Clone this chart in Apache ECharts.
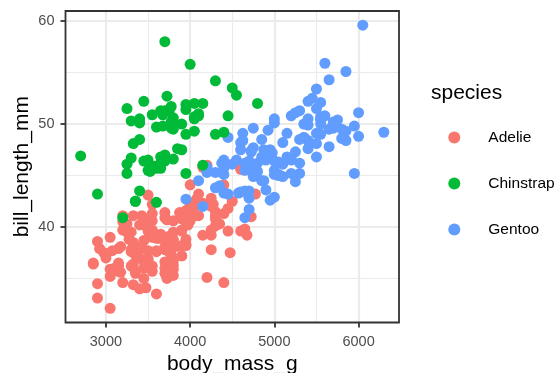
<!DOCTYPE html>
<html>
<head>
<meta charset="utf-8">
<script src="https://cdn.jsdelivr.net/npm/echarts@6/dist/echarts.min.js"></script>
<style>html,body{margin:0;padding:0;background:#fff}#c{width:558px;height:373px}</style>
</head>
<body>
<div id="c"></div>
<script>
const speciesNames = ['Adelie', 'Chinstrap', 'Gentoo'];
const speciesColors = ['#F8766D', '#00BA38', '#619CFF'];
const xMajorTicks = [3000, 4000, 5000, 6000];
const xMinorTicks = [3500, 4500, 5500];
const yMajorTicks = [40, 50, 60];
const yMinorTicks = [35, 45, 55];

const adelieMass = [3750,3800,3250,3450,3650,3625,4675,3475,4250,3300,3700,3200,3800,4400,3700,3450,4500,3325,4200,
3400,3600,3800,3950,3800,3800,3550,3200,3150,3950,3250,3900,3300,3900,3325,4150,3950,3550,3300,4650,3150,3900,3100,4400,
3000,4600,3425,2975,3450,4150,3500,4300,3450,4050,2900,3700,3550,3800,2850,3750,3150,4400,3600,4050,2850,3950,3350,4100,
3050,4450,3600,3900,3550,4150,3700,4250,3700,3900,3550,4000,3200,4700,3800,4200,3350,3550,3800,3500,3950,3600,3550,4300,
3400,4450,3300,4300,3700,4350,2900,4100,3725,4725,3075,4250,2925,3550,3750,3900,3175,4775,3825,4600,3200,4275,3900,4075,
2900,3775,3350,3325,3150,3500,3450,3875,3050,4000,3275,4300,3050,4000,3325,3500,3500,4475,3425,3900,3175,3975,3400,4250,
3400,3475,3050,3725,3000,3650,4250,3475,3450,3750,3700,4000];
const adelieBill = [39.1,39.5,40.3,36.7,39.3,38.9,39.2,34.1,42.0,37.8,37.8,41.1,38.6,34.6,36.6,38.7,42.5,34.4,46.0,
37.8,37.7,35.9,38.2,38.8,35.3,40.6,40.5,37.9,40.5,39.5,37.2,39.5,40.9,36.4,39.2,38.8,42.2,37.6,39.8,36.5,40.8,36.0,44.1,
37.0,39.6,41.1,37.5,36.0,42.3,39.6,40.1,35.0,42.0,34.5,41.4,39.0,40.6,36.5,37.6,35.7,41.3,37.6,41.1,36.4,41.6,35.5,41.1,
35.9,41.8,33.5,39.7,39.6,45.8,35.5,42.8,40.9,37.2,36.2,42.1,34.6,42.9,36.7,35.1,37.3,41.3,36.3,36.9,38.3,38.9,35.7,41.1,
34.0,39.6,36.2,40.8,38.1,40.3,33.1,43.2,35.0,41.0,37.7,37.8,37.9,39.7,38.6,38.2,38.1,43.2,38.1,45.6,39.7,42.2,39.6,42.7,
38.6,37.3,35.7,41.1,36.2,37.7,40.2,41.4,35.2,40.6,38.8,41.5,39.0,44.1,38.5,43.1,36.8,37.5,38.1,41.1,35.6,40.2,37.0,39.7,
40.2,40.6,32.1,40.7,37.3,39.0,39.2,36.6,36.0,37.8,36.0,41.5];

const gentooMass = [4500,5700,4450,5700,5400,4550,4800,5200,4400,5150,4650,5550,4650,5850,4200,5850,4150,6300,4800,5350,
5700,5000,4400,5050,5000,5100,4100,5650,4600,5550,5250,4700,5050,6050,5150,5400,4950,5250,4350,5350,3950,5700,4300,4750,
5550,4900,4200,5400,5100,5300,4850,5300,4400,5000,4900,5050,4300,5000,4450,5550,4200,5300,4400,5650,4700,5700,4650,5800,
4700,5550,4750,5000,5100,5200,4700,5800,4600,6000,4750,5950,4625,5450,4725,5350,4750,5600,4600,5300,4875,5550,4950,5400,
4750,5650,4850,5200,4925,4875,4625,5250,4850,5600,4975,5500,4725,5500,4700,5500,4575,5500,5000,5950,4650,5500,4375,5850,
4875,6000,4925,4850,5750,5200,5400];
const gentooBill = [46.1,50.0,48.7,50.0,47.6,46.5,45.4,46.7,43.3,46.8,40.9,49.0,45.5,48.4,45.8,49.3,42.0,49.2,46.2,48.7,
50.2,45.1,46.5,46.3,42.9,46.1,44.5,47.8,48.2,50.0,47.3,42.8,45.1,59.6,49.1,48.4,42.6,44.4,44.0,48.7,42.7,49.6,45.3,49.6,
50.5,43.6,45.5,50.5,44.9,45.2,46.6,48.5,45.1,50.1,46.5,45.0,43.8,45.5,43.2,50.4,45.3,46.2,45.7,54.3,45.8,49.8,46.2,49.5,
43.5,50.7,47.7,46.4,48.2,46.5,46.4,48.6,47.5,51.1,45.2,45.2,49.1,52.5,47.4,50.0,44.9,50.8,43.4,51.3,47.5,52.1,47.5,52.2,
45.5,49.5,44.5,50.8,49.4,46.9,48.4,51.1,48.5,55.9,47.2,49.1,47.3,46.8,41.7,53.4,43.3,48.1,50.5,49.8,43.5,51.5,46.2,55.1,
44.5,48.8,47.2,46.8,50.4,45.2,49.9];

const chinstrapMass = [3500,3900,3650,3525,3725,3950,3250,3750,4150,3700,3800,3775,3700,4050,3575,4050,3300,3700,3450,4400,
3600,3400,2900,3800,3300,4150,3400,3800,3700,4550,3200,4300,3350,4100,3600,3900,3850,4800,2700,4500,3950,3650,3550,3500,
3675,4450,3400,4300,3250,3675,3325,3950,3600,4050,3350,3450,3250,4050,3800,3525,3950,3650,3650,4000,3400,3775,4100,3775];
const chinstrapBill = [46.5,50.0,51.3,45.4,52.7,45.2,46.1,51.3,46.0,51.3,46.6,51.7,47.0,52.0,45.9,50.5,50.3,58.0,46.4,49.2,
42.4,48.5,43.2,50.6,46.7,52.0,50.5,49.5,46.4,52.8,40.9,54.2,42.5,51.0,49.7,47.5,47.6,52.0,46.9,53.5,49.0,46.2,50.9,45.5,
50.9,50.8,50.1,49.0,51.5,49.8,48.1,51.4,45.7,50.7,42.5,52.2,45.2,49.3,50.2,45.6,51.9,46.8,45.7,55.8,43.5,49.6,50.8,50.2];

function pairs(m, b) { return m.map((v, i) => [v, b[i]]); }

const FONT = 'Liberation Sans, Arial, sans-serif';
const gridColor = '#EBEBEB';

function pointSeries(name, color, data, z) {
  return {
    name: name, type: 'scatter', data: data, symbol: 'circle', symbolSize: 11,
    itemStyle: { color: color, opacity: 1 }, z: z, silent: true, animation: false
  };
}

const helper = {
  type: 'scatter', data: [], z: 1, silent: true, animation: false,
  markLine: {
    silent: true, symbol: 'none', animation: false, z: 1, label: { show: false },
    lineStyle: { color: gridColor, width: 1.1, type: 'solid' },
    data: xMinorTicks.map(v => ({ xAxis: v })).concat(yMinorTicks.map(v => ({ yAxis: v })))
  }
};

const chart = echarts.init(document.getElementById('c'), null, { renderer: 'canvas' });
chart.setOption({
  animation: false,
  backgroundColor: '#fff',
  textStyle: { fontFamily: FONT },
  title: {
    text: 'species', left: 431, top: 83, padding: 0,
    textStyle: { fontFamily: FONT, fontSize: 21, fontWeight: 'normal', color: '#000' }
  },
  grid: {
    left: 65.5, top: 11, right: 159, bottom: 50.5, containLabel: false, outerBoundsMode: 'none',
    show: true, borderColor: '#333333', borderWidth: 1.8, backgroundColor: 'transparent', z: 10
  },
  legend: {
    data: speciesNames, orient: 'vertical', left: 448.3, top: 129.5, icon: 'circle',
    itemWidth: 58, itemHeight: 12, itemGap: 30, padding: 0, selectedMode: false,
    textStyle: { fontFamily: FONT, fontSize: 15.5, color: '#000', padding: [0, 0, 0, 0] }
  },
  xAxis: {
    type: 'value', min: 2520, max: 6480,
    name: 'body_mass_g', nameLocation: 'middle', nameGap: 31, nameMoveOverlap: false,
    nameTextStyle: { fontFamily: FONT, fontSize: 21, color: '#000' },
    axisLine: { show: false },
    axisTick: { show: true, customValues: xMajorTicks, length: 5, lineStyle: { color: '#333333', width: 1.8 } },
    axisLabel: { customValues: xMajorTicks, formatter: v => String(v), margin: 12, fontFamily: FONT, fontSize: 14.5, color: '#4D4D4D' },
    splitLine: { show: true, lineStyle: { color: gridColor, width: 2.2 } }
  },
  yAxis: {
    type: 'value', min: 30.725, max: 60.975,
    name: 'bill_length_mm', nameLocation: 'middle', nameGap: 33, nameRotate: 90, nameMoveOverlap: false,
    nameTextStyle: { fontFamily: FONT, fontSize: 21, color: '#000' },
    axisLine: { show: false },
    axisTick: { show: true, customValues: yMajorTicks, length: 5, lineStyle: { color: '#333333', width: 1.8 } },
    axisLabel: { customValues: yMajorTicks, formatter: v => String(v), margin: 11, fontFamily: FONT, fontSize: 14.5, color: '#4D4D4D' },
    splitLine: { show: true, lineStyle: { color: gridColor, width: 2.2 } }
  },
  series: [
    helper,
    pointSeries('Adelie', speciesColors[0], pairs(adelieMass, adelieBill), 3),
    pointSeries('Gentoo', speciesColors[2], pairs(gentooMass, gentooBill), 4),
    pointSeries('Chinstrap', speciesColors[1], pairs(chinstrapMass, chinstrapBill), 5)
  ]
});
</script>
</body>
</html>
